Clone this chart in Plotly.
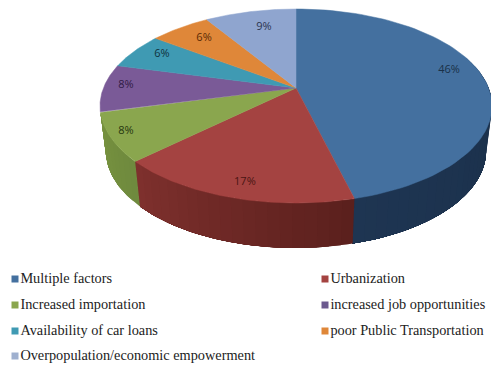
import numpy as np
import plotly.graph_objects as go

# Data
categories = ["Multiple factors", "Urbanization", "Increased importation",
              "increased job opportunities", "Availability of car loans",
              "poor Public Transportation", "Overpopulation/economic empowerment"]
values = [46, 17, 8, 8, 6, 6, 9]

# Styles
top_colors = ["#44709f", "#a44341", "#8aa64e", "#7a5a97", "#3f9ab3", "#df8739", "#8fa5cf"]
side_near = ["#1a2f49", "#5b201d", "#6f8a3e"]
side_far = ["#1e3552", "#80312e", "#78933f"]
label_colors = ["#1a3048", "#4a1513", "#26370f", "#301a45", "#10323d", "#5a2a05", "#2b3550"]
legend_colors = ["#44709f", "#a44341", "#8aa64e", "#6c5a8f", "#3f9ab3", "#df8739", "#9fb0cf"]

# Projection of the tilted disc into the 491x369 page
CX, CY, A, B, K = 296, 88, 192.6, 93.66, 0.1856
DEPTH, SHRINK = 45, 0.97
label_radius = [0.848, 0.875, 0.917, 0.889, 0.841, 0.795, 0.765]
label_turn = [-6.4, -1.4, 1.3, 2.0, 2.3, 1.4, 1.9]
legend_cols = [15, 325, 15, 325, 15, 325, 15]
legend_rows = [279, 279, 305, 305, 331, 331, 356]


def project(theta_deg, r=1.0):
    t = np.radians(theta_deg)
    u, v = r * np.sin(t), r * np.cos(t)
    w = 1 + K * v
    return CX + A * u / w, CY - B * v / w


def project_low(theta_deg):
    x, y = project(theta_deg)
    return CX + (x - CX) * SHRINK, y + DEPTH


def mix(c1, c2, f):
    a = [int(c1[i:i + 2], 16) for i in (1, 3, 5)]
    b = [int(c2[i:i + 2], 16) for i in (1, 3, 5)]
    return "rgb(%d,%d,%d)" % tuple(round(p + (q - p) * f) for p, q in zip(a, b))


fig = go.Figure()
total = sum(values)
bounds = np.cumsum([0] + values) / total * 360

# Side wall: overlapping strips for the shading, painted from the slice start to its end
VIS_START = 70
for i in range(len(side_near)):
    s, e = max(bounds[i], VIS_START), bounds[i + 1]
    edges = np.linspace(s, e, max(2, int((e - s) / 3) + 1))
    for j in range(len(edges) - 1):
        ts = np.linspace(edges[j], e, 40)
        x1, y1 = project(ts)
        x2, y2 = project_low(ts[::-1])
        f = (edges[j] - s) / (e - s)
        col = mix(side_near[i], side_far[i], f) if i == 0 else mix(side_far[i], side_near[i], 1 - f)
        fig.add_trace(go.Scatter(x=np.r_[x1, x2], y=np.r_[y1, y2], fill="toself",
                                 fillcolor=col, mode="lines", line=dict(color=col, width=0),
                                 hoverinfo="skip", showlegend=False))

# Top face
for i in range(len(values)):
    ts = np.linspace(bounds[i], bounds[i + 1], 80)
    x, y = project(ts)
    fig.add_trace(go.Scatter(x=np.r_[CX, x, CX], y=np.r_[CY, y, CY], fill="toself",
                             fillcolor=top_colors[i], mode="lines",
                             line=dict(color=top_colors[i], width=0.5),
                             name=categories[i], hoverinfo="skip", showlegend=False))

# Data labels
mids = (bounds[:-1] + bounds[1:]) / 2 + np.array(label_turn)
lx, ly = project(mids, np.array(label_radius))
fig.add_trace(go.Scatter(x=lx, y=ly, mode="text", text=[f"{v}%" for v in values],
                         textposition="middle center",
                         textfont=dict(family="Open Sans", size=11, color=label_colors),
                         hoverinfo="skip", showlegend=False))

# Legend
fig.add_trace(go.Scatter(x=legend_cols, y=legend_rows,
                         mode="markers+text", text=categories, textposition="middle right",
                         marker=dict(symbol="square", size=7, color=legend_colors),
                         textfont=dict(family="Liberation Serif", size=14.3, color="#222222"),
                         hoverinfo="skip", showlegend=False))

fig.update_layout(width=491, height=369, margin=dict(l=0, r=0, t=0, b=0),
                  paper_bgcolor="white", plot_bgcolor="white", showlegend=False,
                  xaxis=dict(range=[0, 491], visible=False, fixedrange=True),
                  yaxis=dict(range=[369, 0], visible=False, fixedrange=True))
fig.write_html("out.html", config=dict(displayModeBar=False),
               post_script="document.body.style.margin='0';document.documentElement.style.overflow='hidden';")
